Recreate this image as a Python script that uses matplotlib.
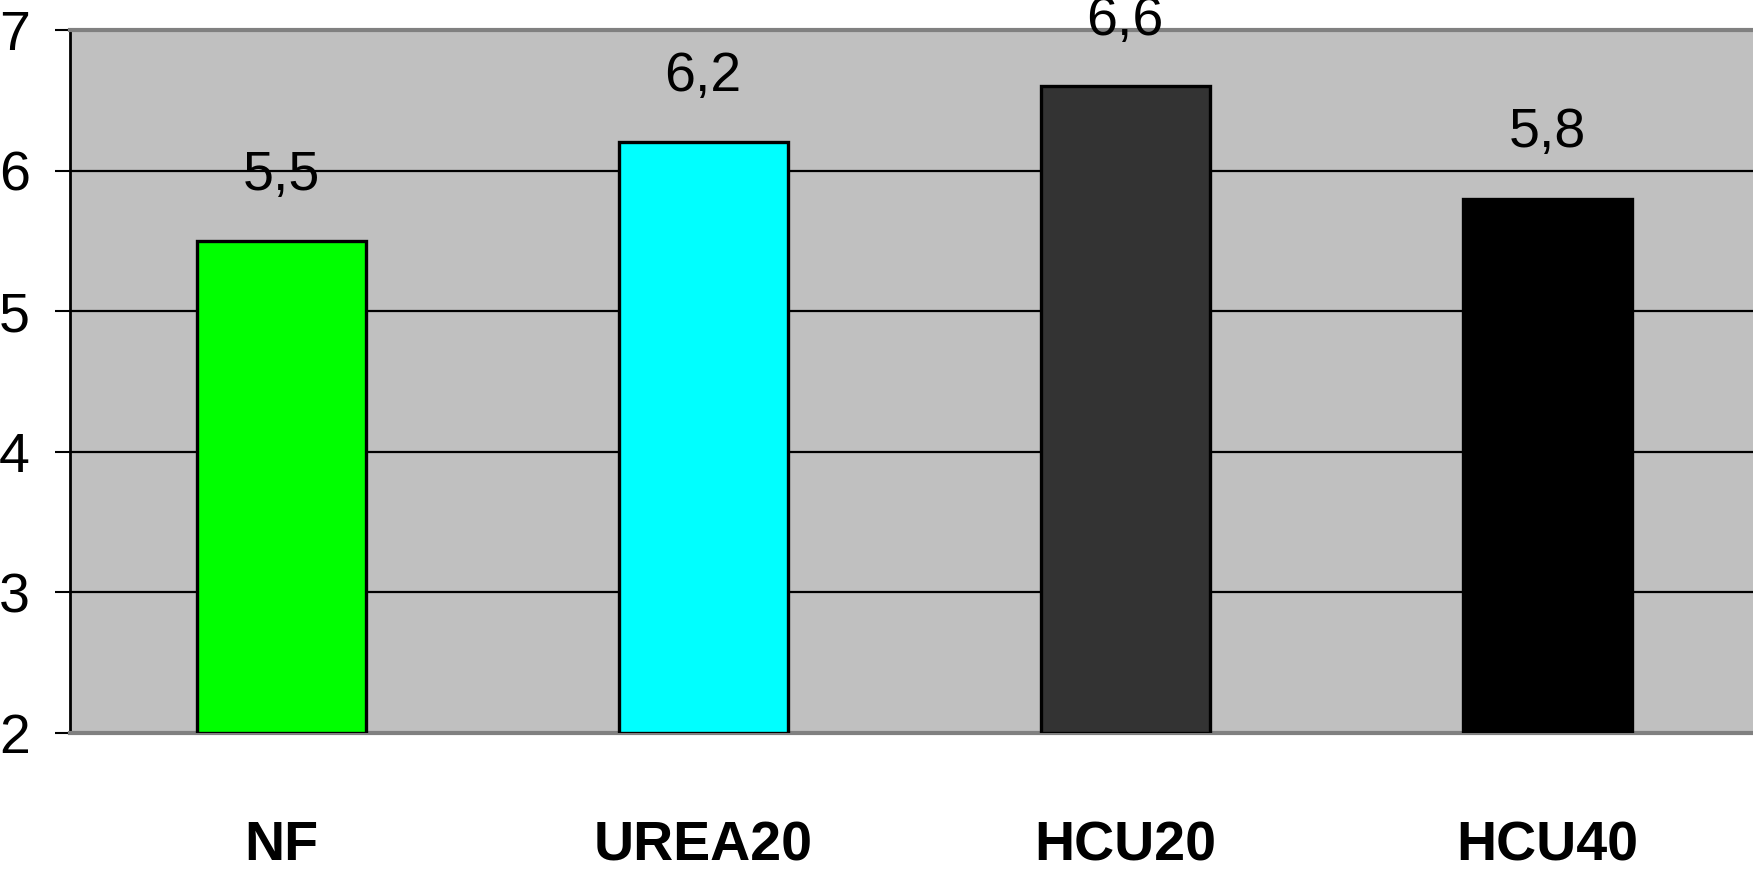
import matplotlib.pyplot as plt
import numpy as np

categories = ["NF", "UREA20", "HCU20", "HCU40"]
values = [5.5, 6.2, 6.6, 5.8]
value_labels = ["5,5", "6,2", "6,6", "5,8"]
bar_colors = ["#00FF00", "#00FFFF", "#333333", "#000000"]
yticks = [2, 3, 4, 5, 6, 7]

plt.rcParams['font.family'] = ['Liberation Sans', 'DejaVu Sans']

fig = plt.figure(figsize=(17.53, 8.75), dpi=100)
ax = fig.add_axes([0.04, 0.1623, 0.963, 0.8034])
ax.set_facecolor("#C0C0C0")

x = np.arange(len(categories))
ax.bar(x, np.array(values) - 2, bottom=2, width=0.4, color=bar_colors,
       edgecolor="black", linewidth=2.4, zorder=3)

# value labels above each bar, decimal comma
for xi, v, lab in zip(x, values, value_labels):
    ax.annotate(lab, (xi, v), xytext=(0, 37), textcoords="offset points",
                ha="center", va="baseline", fontsize=40, zorder=4)

ax.set_xlim(-0.5, len(categories) - 0.5)
ax.set_ylim(2, 7)
ax.set_yticks(yticks)
ax.set_yticklabels([str(t) for t in yticks], fontsize=40)
ax.tick_params(axis="y", length=11, width=1.5, pad=18, direction="out")
ax.set_xticks(x)
ax.set_xticklabels(categories, fontsize=40, fontweight="bold")
ax.tick_params(axis="x", length=0, pad=63)

for t in [3, 4, 5, 6]:
    ax.axhline(t, color="black", linewidth=1.6, zorder=1)

ax.spines["left"].set_color("black")
ax.spines["left"].set_linewidth(2)
ax.spines["top"].set_color("#808080")
ax.spines["top"].set_linewidth(3)
ax.spines["bottom"].set_color("#808080")
ax.spines["bottom"].set_linewidth(3)
ax.spines["right"].set_visible(False)

fig.savefig("out.png", dpi=100, facecolor="white")
